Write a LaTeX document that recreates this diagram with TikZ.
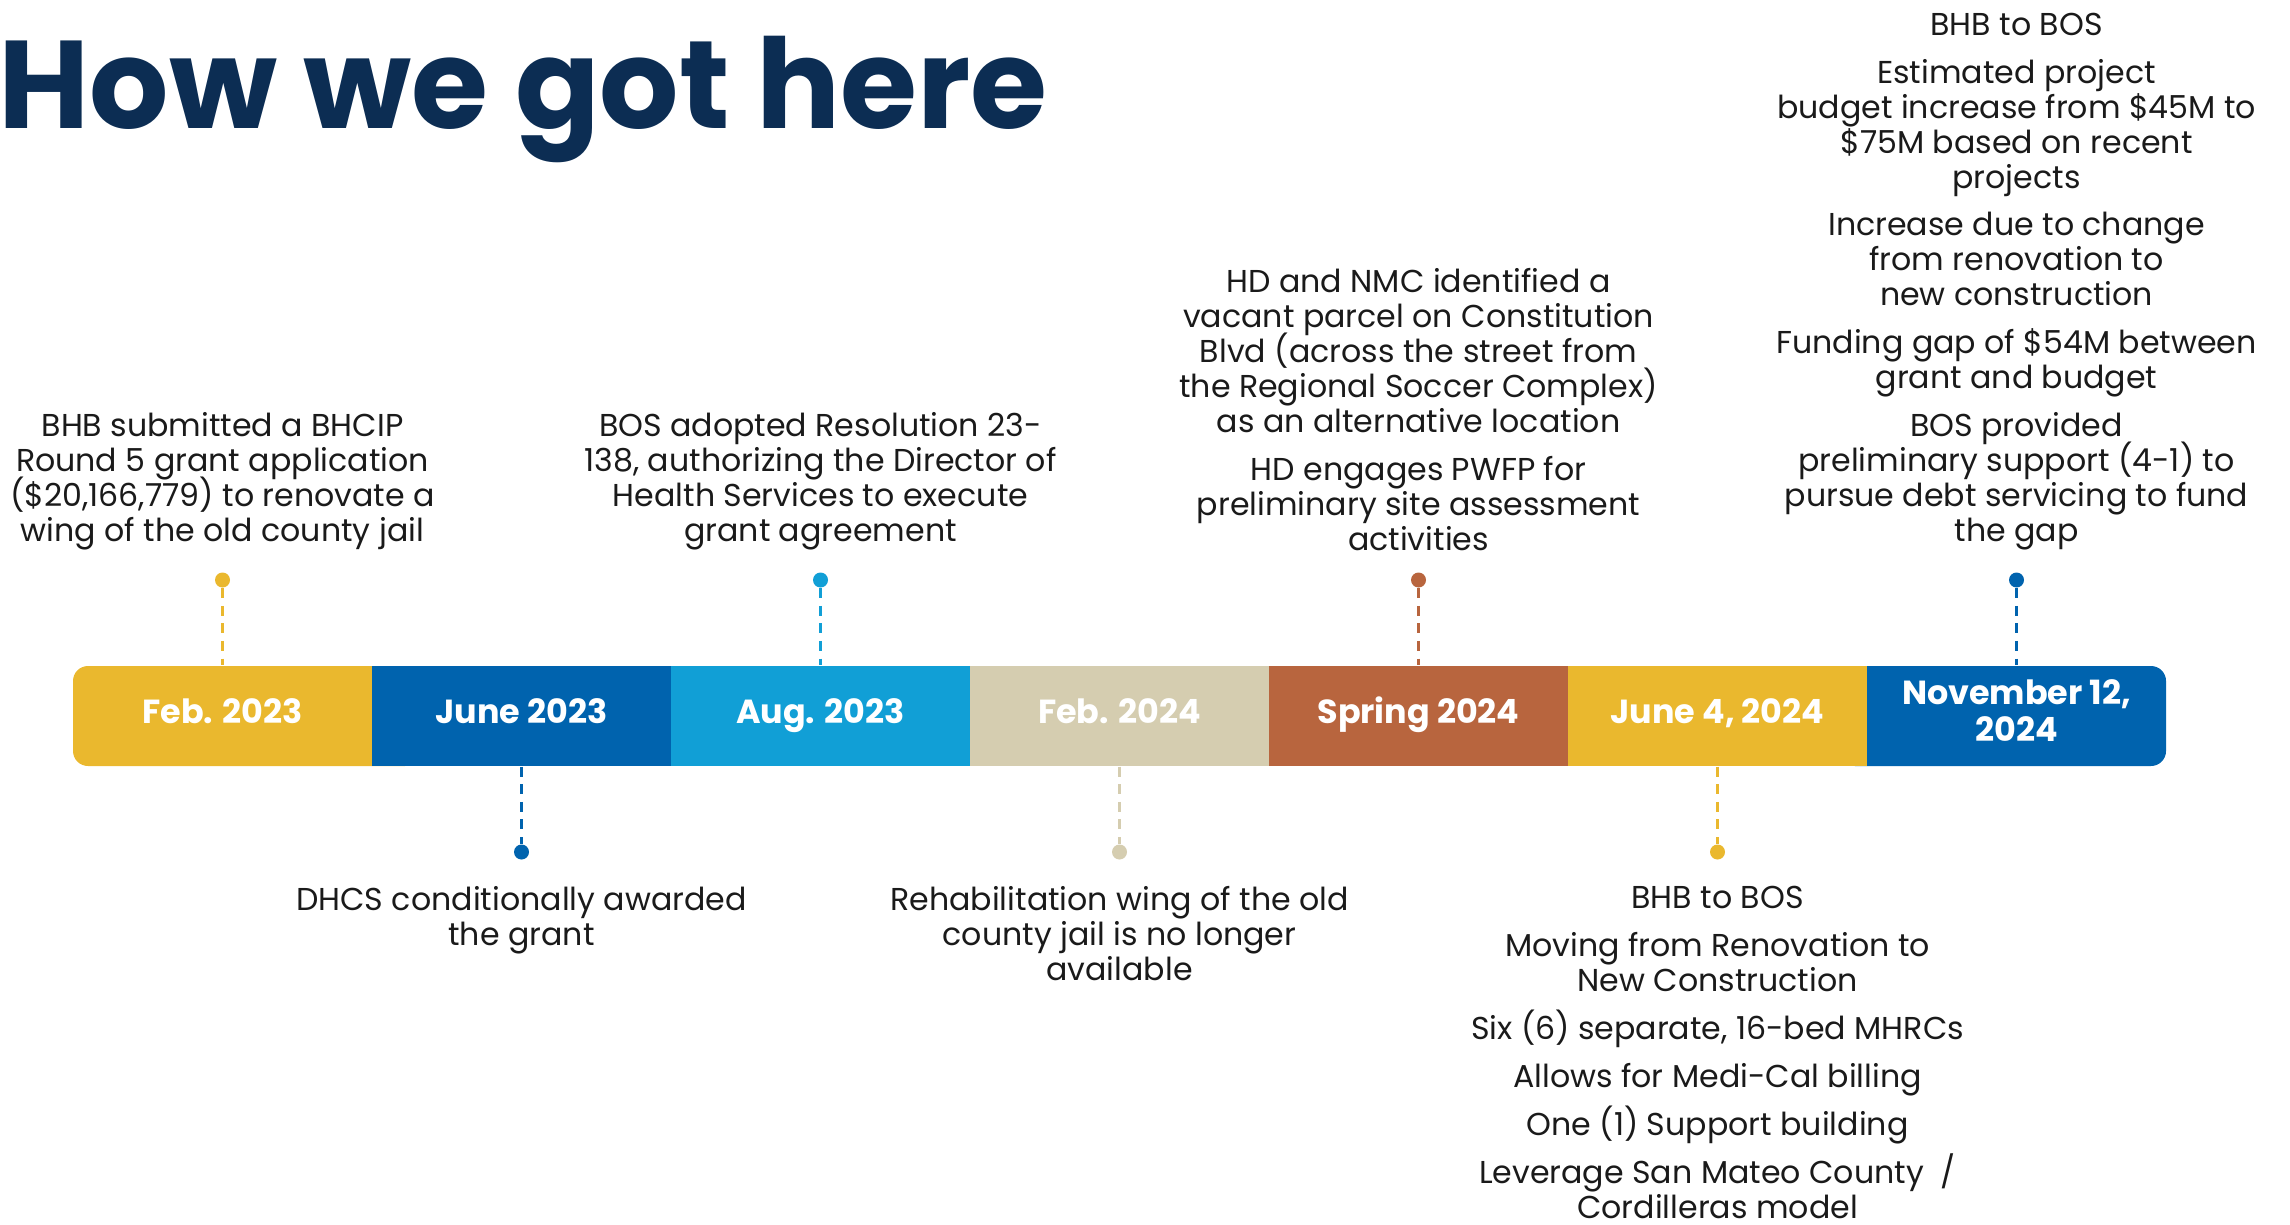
\documentclass[tikz,border=0pt]{standalone}
\usepackage{fontspec}
\setmainfont{Poppins}
\usepackage{tikz}
\usetikzlibrary{calc}

\definecolor{titlenavy}{RGB}{12,45,83}
\definecolor{notetext}{RGB}{26,26,26}
\definecolor{barGold}{RGB}{234,184,46}
\definecolor{barBlue}{RGB}{0,99,174}
\definecolor{barSky}{RGB}{17,159,214}
\definecolor{barSand}{RGB}{213,205,176}
\definecolor{barRust}{RGB}{184,101,62}

\newcommand{\notefont}{\fontsize{9}{9.95}\selectfont\lineskiplimit=-6pt\relax}

\tikzset{
	seg/.style={minimum width=2.99cm, minimum height=1cm, inner sep=0pt, text=white, align=center, font=\fontsize{9.5}{10.5}\selectfont\bfseries},
	dotmark/.style={circle, fill=#1, minimum size=0.15cm, inner sep=0pt},
	stem/.style={draw=#1, line width=0.6pt, dash pattern=on 2.8pt off 2.2pt},
	note/.style={align=center, inner sep=0pt, text=notetext, font=\notefont},
}

\begin{document}
\begin{tikzpicture}
			%%%%% START %%%%%
			\useasboundingbox (0,0) rectangle (22.9,-12.24);
			
			\node[anchor=base west, inner sep=0pt, text=titlenavy, font=\fontsize{35.5}{38}\selectfont\bfseries] (title) at (-0.02,-1.286) {How we got here};
			
			% rounded ends of the bar
			\fill[barGold, rounded corners=0.15cm] (0.73,-6.66) rectangle (4.2,-7.66);
			\fill[barBlue, rounded corners=0.15cm] (18.4,-6.66) rectangle (21.66,-7.66);
			
			\node[seg] (feb23) at (2.225,-7.16) {\strut Feb. 2023};
			\node[seg, fill=barBlue] (jun23) at (5.215,-7.16) {\strut June 2023};
			\node[seg, fill=barSky] (aug23) at (8.205,-7.16) {\strut Aug. 2023};
			\node[seg, fill=barSand] (feb24) at (11.195,-7.16) {\strut Feb. 2024};
			\node[seg, fill=barRust] (spr24) at (14.185,-7.16) {\strut Spring 2024};
			\node[seg, fill=barGold] (jun24) at (17.175,-7.16) {\strut June 4, 2024};
			\node[seg] (nov24) at (20.165,-7.16) {\strut November 12,\\\strut 2024};
			
			% dots above the bar
			\node[dotmark=barGold] (dfeb23) at (2.225,-5.80) {};
			\node[dotmark=barSky] (daug23) at (8.205,-5.80) {};
			\node[dotmark=barRust] (dspr24) at (14.185,-5.80) {};
			\node[dotmark=barBlue] (dnov24) at (20.165,-5.80) {};
			
			% dots below the bar
			\node[dotmark=barBlue] (djun23) at (5.215,-8.52) {};
			\node[dotmark=barSand] (dfeb24) at (11.195,-8.52) {};
			\node[dotmark=barGold] (djun24) at (17.175,-8.52) {};
			
			\draw[stem=barGold] (dfeb23) -- (feb23.north);
			\draw[stem=barSky] (daug23) -- (aug23.north);
			\draw[stem=barRust] (dspr24) -- (spr24.north);
			\draw[stem=barBlue] (dnov24) -- (nov24.north);
			\draw[stem=barBlue] (jun23.south) -- (djun23);
			\draw[stem=barSand] (feb24.south) -- (dfeb24);
			\draw[stem=barGold] (jun24.south) -- (djun24);
			
			% texts above
			\node[note, anchor=south] (tfeb23) at (2.225,-5.51) {BHB submitted a BHCIP\\Round 5 grant application\\(\$20,166,779) to renovate a\\wing of the old county jail};
			\node[note, anchor=south] (taug23) at (8.205,-5.51) {BOS adopted Resolution 23-\\138, authorizing the Director of\\Health Services to execute\\grant agreement};
			\node[note, anchor=south] (tspr24) at (14.185,-5.51) {HD and NMC identified a\\vacant parcel on Constitution\\Blvd (across the street from\\the Regional Soccer Complex)\\as an alternative location\\[3.7pt]
				HD engages PWFP for\\preliminary site assessment\\activities};
			\node[note, anchor=south] (tnov24) at (20.165,-5.51) {BHB to BOS\\[3.7pt]
				Estimated project\\budget increase from \$45M to\\\$75M based on recent\\projects\\[3.7pt]
				Increase due to change\\from renovation to\\new construction\\[3.7pt]
				Funding gap of \$54M between\\grant and budget\\[3.7pt]
				BOS provided\\preliminary support (4-1) to\\pursue debt servicing to fund\\the gap};
			
			% texts below
			\node[note, anchor=north] (tjun23) at (5.215,-8.855) {DHCS conditionally awarded\\the grant};
			\node[note, anchor=north] (tfeb24) at (11.195,-8.855) {Rehabilitation wing of the old\\county jail is no longer\\available};
			\node[note, anchor=north] (tjun24) at (17.175,-8.855) {BHB to BOS\\[3.7pt]
				Moving from Renovation to\\New Construction\\[3.7pt]
				Six (6) separate, 16-bed MHRCs\\[3.7pt]
				Allows for Medi-Cal billing\\[3.7pt]
				One (1) Support building\\[3.7pt]
				Leverage San Mateo County~ /\\Cordilleras model};
			%%%%% END %%%%%
\end{tikzpicture}
\end{document}
